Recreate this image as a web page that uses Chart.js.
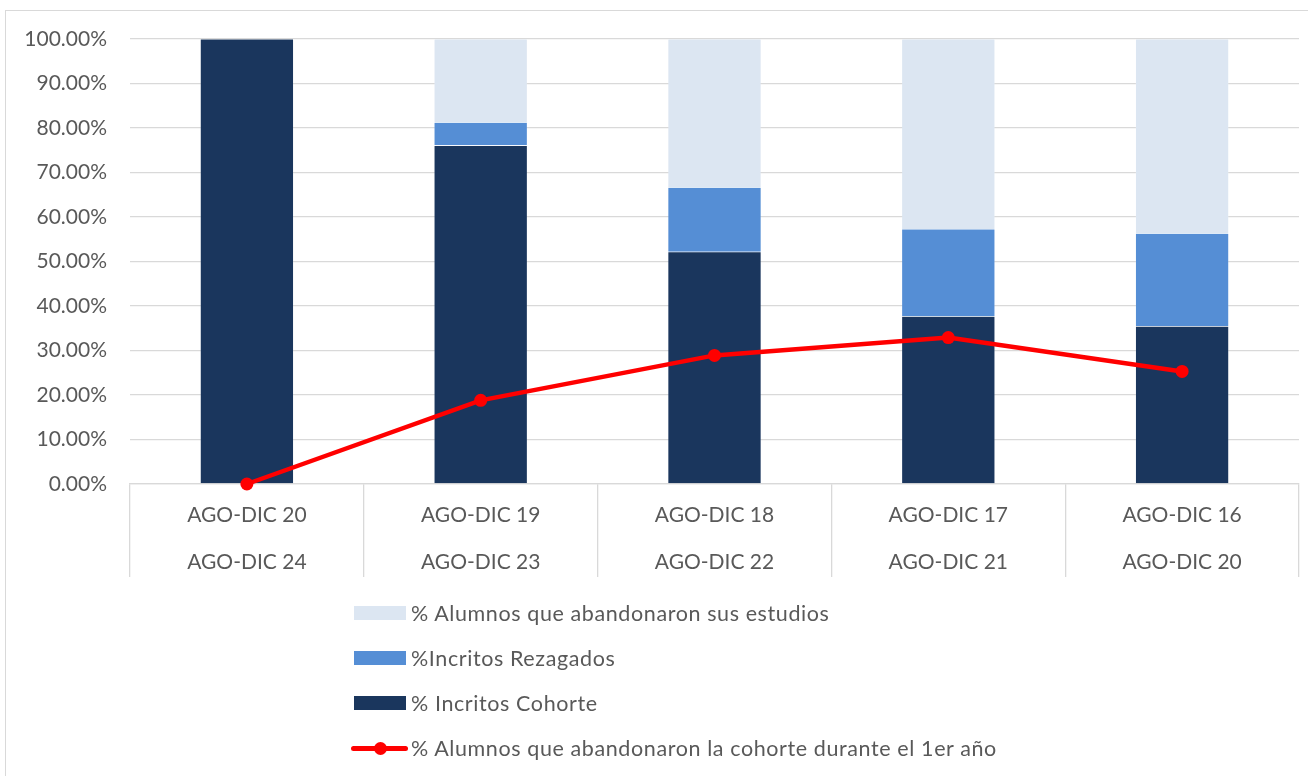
<!DOCTYPE html>
<html>
<head>
<meta charset="utf-8">
<script src="https://cdn.jsdelivr.net/npm/chart.js@4.4.1/dist/chart.umd.min.js"></script>
<style>
  html, body { margin: 0; padding: 0; background: #fff; }
  body { width: 1308px; height: 776px; position: relative; overflow: hidden; font-family: Lato, "Open Sans", sans-serif; }
  #frame { position: absolute; left: 5px; top: 10px; width: 1400px; height: 900px; border-left: 1.5px solid #d9d9d9; border-top: 1.5px solid #d9d9d9; }
  #c { position: absolute; left: 0; top: 0; }
  #legend { position: absolute; left: 351px; top: 0; }
  .item { position: absolute; left: 0; height: 30px; white-space: nowrap; color: #595959; font-size: 21.5px; letter-spacing: 0.6px; }
  .item .txt { position: absolute; left: 60px; top: 50%; transform: translateY(-50%); }
  .item .box { position: absolute; left: 3px; width: 52px; height: 14px; top: 8px; }
  .item .ln { position: absolute; left: 0; width: 57px; height: 5px; top: 12.5px; border-radius: 3px; }
  .item .dot { position: absolute; left: 22.5px; width: 13px; height: 13px; top: 8.5px; border-radius: 50%; }
</style>
</head>
<body>
<div id="frame"></div>
<canvas id="c" width="1308" height="776"></canvas>
<div id="legend"></div>
<script>
// ---- data ----
const categories = [
  ["AGO-DIC 20", "AGO-DIC 24"],
  ["AGO-DIC 19", "AGO-DIC 23"],
  ["AGO-DIC 18", "AGO-DIC 22"],
  ["AGO-DIC 17", "AGO-DIC 21"],
  ["AGO-DIC 16", "AGO-DIC 20"]
];
const inscritosCohorte = [100, 76.1, 52.2, 37.7, 35.5];
const inscritosRezagados = [0, 5.2, 14.5, 19.6, 20.85];
const abandonaronEstudios = [0, 18.7, 33.3, 42.7, 43.65];
const abandonaronPrimerAnio = [0, 18.8, 28.9, 32.9, 25.3];
const yTicks = [0, 10, 20, 30, 40, 50, 60, 70, 80, 90, 100];

const labelCohorte = "% Incritos Cohorte";
const labelRezagados = "%Incritos Rezagados";
const labelAbandono = "% Alumnos que abandonaron sus estudios";
const labelPrimerAnio = "% Alumnos que abandonaron la cohorte durante el 1er año";

const C_DARK = "#1a365d", C_MID = "#558ed5", C_LIGHT = "#dce6f2", C_RED = "#ff0000";
const TXT = "#595959", GRID = "#d9d9d9";
const FONT = { family: "Lato, 'Open Sans', sans-serif", size: 21 };

const chart = new Chart(document.getElementById("c"), {
  type: "bar",
  data: {
    labels: categories,
    datasets: [
      { type: "line", label: labelPrimerAnio, data: abandonaronPrimerAnio, stack: "line", order: 0, clip: false,
        borderColor: C_RED, backgroundColor: C_RED, borderWidth: 4.5, pointRadius: 6.5,
        pointBackgroundColor: C_RED, pointBorderColor: C_RED, pointBorderWidth: 0, tension: 0 },
      { label: labelCohorte, data: inscritosCohorte, backgroundColor: C_DARK, stack: "s", order: 1,
        borderColor: "rgba(255,255,255,0.25)", borderWidth: 0.6 },
      { label: labelRezagados, data: inscritosRezagados, backgroundColor: C_MID, stack: "s", order: 1,
        borderColor: "rgba(255,255,255,0.25)", borderWidth: 0.6 },
      { label: labelAbandono, data: abandonaronEstudios, backgroundColor: C_LIGHT, stack: "s", order: 1,
        borderColor: "rgba(255,255,255,0.25)", borderWidth: 0.6 }
    ]
  },
  options: {
    responsive: false,
    animation: false,
    devicePixelRatio: 1,
    layout: { padding: { top: 39, left: 0, right: 9, bottom: 199 } },
    datasets: { bar: { barPercentage: 0.4, categoryPercentage: 1.0 } },
    plugins: { legend: { display: false }, tooltip: { enabled: false } },
    scales: {
      x: {
        stacked: true,
        afterFit: (s) => { s.height = 93; },
        grid: { offset: true, drawOnChartArea: false, drawTicks: true, tickLength: 93, color: GRID, lineWidth: 1.3 },
        border: { display: true, color: GRID, width: 1.3 },
        ticks: { color: TXT, font: { ...FONT, lineHeight: 47.5 / 21 }, padding: -86, maxRotation: 0, autoSkip: false }
      },
      y: {
        stacked: true,
        min: 0, max: 100,
        afterFit: (s) => { s.width = 130; },
        afterBuildTicks: (s) => { s.ticks = yTicks.map(v => ({ value: v })); },
        grid: { color: GRID, lineWidth: 1.3, drawTicks: false },
        border: { display: false },
        ticks: { color: TXT, font: FONT, padding: 23, callback: (v) => Number(v).toFixed(2) + "%" }
      }
    }
  }
});

// HTML legend built from the datasets
const legend = document.getElementById("legend");
const rows = [
  { ds: 3, y: 613 }, { ds: 2, y: 658 }, { ds: 1, y: 703 }, { ds: 0, y: 748 }
];
rows.forEach(r => {
  const d = chart.data.datasets[r.ds];
  const it = document.createElement("div");
  it.className = "item";
  it.style.top = (r.y - 15) + "px";
  if (d.type === "line") {
    it.innerHTML = '<div class="ln" style="background:' + d.borderColor + '"></div><div class="dot" style="background:' + d.borderColor + '"></div>';
  } else {
    it.innerHTML = '<div class="box" style="background:' + d.backgroundColor + '"></div>';
  }
  const t = document.createElement("span");
  t.className = "txt";
  t.textContent = d.label;
  it.appendChild(t);
  legend.appendChild(it);
});
</script>
</body>
</html>
